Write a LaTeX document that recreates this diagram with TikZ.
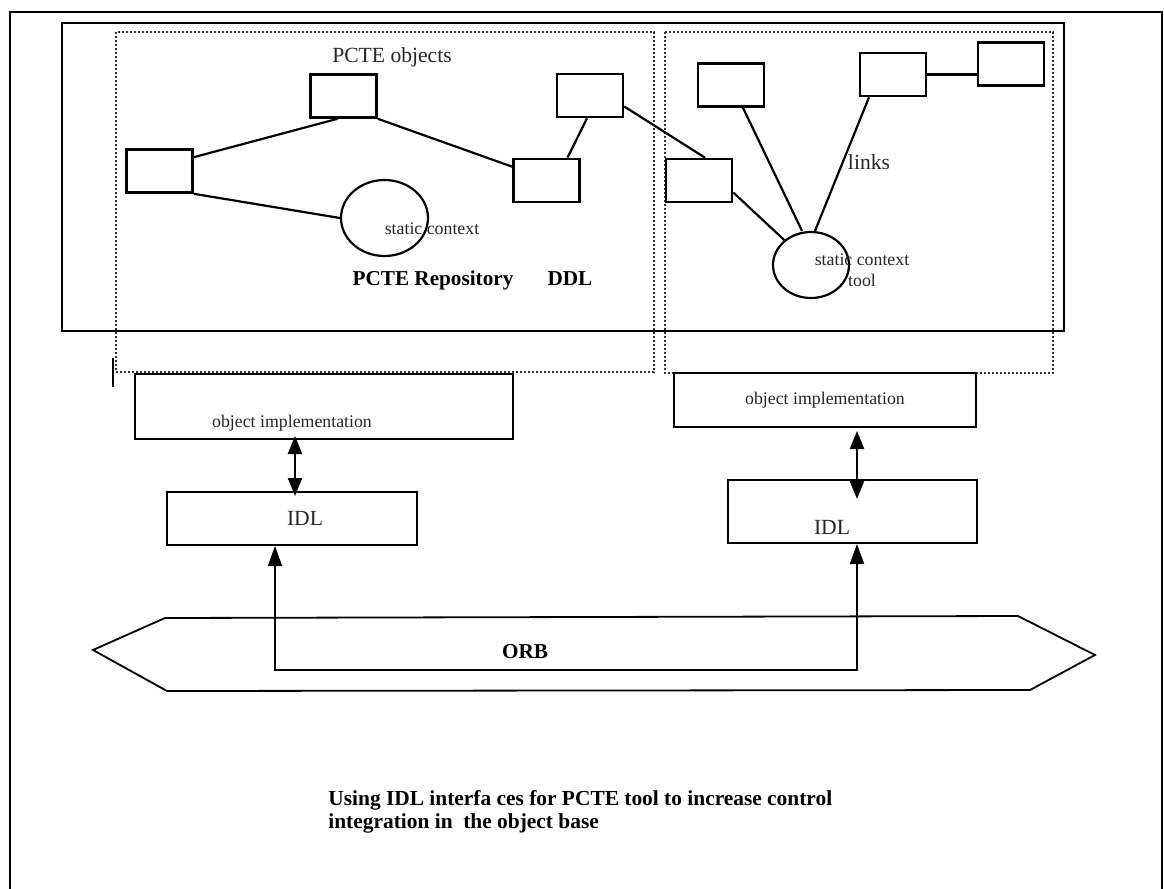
\documentclass[tikz,border=0pt]{standalone}
\usepackage{fontspec}
\setmainfont{Liberation Serif}
\usetikzlibrary{arrows.meta,positioning,shapes.geometric,calc}
\tikzset{
  objbox/.style={rectangle, draw, line width=1.3pt, fill=white,
                 minimum width=33pt, minimum height=21.5pt, inner sep=0pt},
  ctxnode/.style={ellipse, draw, line width=1.1pt, inner sep=0pt},
  layerbox/.style={rectangle, draw, line width=1pt, fill=white, inner sep=0pt},
  panel/.style={draw=black!80, densely dotted, line width=1pt},
  lnk/.style={line width=1.1pt},
  dblarr/.style={{Triangle[length=9pt,width=7pt]}-{Triangle[length=9pt,width=7pt]}, line width=1.1pt},
  busarr/.style={{Triangle[length=10pt,width=7pt]}-{Triangle[length=10pt,width=7pt]}, line width=0.9pt},
  lbl/.style={font=\fontsize{10.8}{12}\selectfont, text=black!85},
  smalltxt/.style={font=\fontsize{8.9}{10.6}\selectfont, text=black!85},
  boldlbl/.style={font=\fontsize{10.6}{12}\selectfont\bfseries},
}
\begin{document}
\begin{tikzpicture}[x=0.5pt, y=-0.5pt]
  \useasboundingbox (0,0) rectangle (1164,889);
  % outer frame
  \draw[line width=1pt] (10,889) -- (10,12) -- (1162,12) -- (1162,889);
  % repository frame and dotted panels
  \draw[line width=1.3pt] (62,23) rectangle (1064,331);
  \draw[panel] (116,32) rectangle (654,372);
  \draw[panel] (665,32) rectangle (1053,373);
  \draw[line width=1.3pt] (113,358) -- (113,387);

  % PCTE objects (repository side)
  \node[objbox] (B) at (159.5,171) {};
  \node[objbox] (A) at (343.5,96) {};
  \node[objbox] (D) at (546.5,180.5) {};
  \node[objbox] (E) at (590,95.5) {};
  \node[ctxnode, minimum width=43.5pt, minimum height=38pt] (C) at (384.5,218) {};
  % PCTE objects (tool side)
  \node[objbox] (F) at (699,180.5) {};
  \node[objbox] (G) at (731,85) {};
  \node[objbox] (H) at (893,74.5) {};
  \node[objbox] (I) at (1011,64) {};
  \node[ctxnode, minimum width=38pt, minimum height=33pt] (K) at (811,265) {};

  % links
  \draw[lnk] ($(B.north east)+(0,9)$) -- ($(A.south)+(-6,0)$);
  \draw[lnk] (B.south east) -- (C.west);
  \draw[lnk] (A.south east) -- ($(D.north west)+(0,9)$);
  \draw[lnk] ($(E.south)+(-3,0)$) -- ($(D.north)+(21,0)$);
  \draw[lnk] ($(E.east)+(0,11)$) -- ($(F.north)+(6,0)$);
  \draw[lnk] ($(F.east)+(0,12)$) -- (K);
  \draw[lnk] ($(G.south)+(12,0)$) -- ($(K.north)+(-9,0)$);
  \draw[lnk] ($(H.south)+(-24,0)$) -- ($(K.north)+(4,0)$);
  \draw[lnk] (H.east) -- (I.west |- H.east);

  % labels
  \node[lbl] (objlbl) at (392,57) {PCTE objects};
  \node[smalltxt] (ctxlbl) at (432,229) {static context};
  \node[boldlbl] (repo) at (433,280) {PCTE Repository};
  \node[boldlbl, base right=10pt of repo] (ddl) {DDL};
  \node[lbl] (links) at (869,162) {links};
  \node[smalltxt, align=center] (toollbl) at (862,270) {static context\\tool};

  % object implementations and IDL
  \node[layerbox, minimum width=189pt, minimum height=32.5pt] (implL) at (324,406.5) {};
  \node[smalltxt] at (292,423) {object implementation};
  \node[layerbox, smalltxt, minimum width=151pt, minimum height=27pt] (implR) at (825,400) {object implementation};
  \node[layerbox, minimum width=125pt, minimum height=26.5pt] (idlL) at (292,518.5) {};
  \node[lbl] at (305,518) {IDL};
  \node[layerbox, minimum width=124.5pt, minimum height=31.5pt] (idlR) at (852.5,511.5) {};
  \node[lbl] at (832,527) {IDL};
  \coordinate (axL) at ($(idlL.north)+(3,0)$);
  \coordinate (axR) at ($(idlR.north)+(4.5,0)$);
  \draw[dblarr, shorten <=-2pt, shorten >=-2.5pt] (axL |- implL.south) -- (axL);
  \draw[dblarr, shorten <=1.5pt, shorten >=-10pt] (axR |- implR.south) -- (axR);

  % ORB
  \draw[line width=0.9pt] (93,650) -- (165,618) -- (1018,616) -- (1095,655)
        -- (1030,690) -- (167,691) -- cycle;
  \node[boldlbl] (orb) at (525,652) {ORB};
  \coordinate (busL) at (275,670);
  \coordinate (busR) at (857,670);
  \draw[busarr] (idlL.south -| busL) -- (busL) -- (busR) -- (idlR.south -| busR);

  \node[boldlbl, font=\fontsize{10.7}{11.5}\selectfont\bfseries, anchor=west,
        align=left, inner sep=0pt] (caption) at (328,812)
        {Using IDL interfa ces for PCTE tool to increase control\\integration in\ \ the object base};
\end{tikzpicture}
\end{document}
